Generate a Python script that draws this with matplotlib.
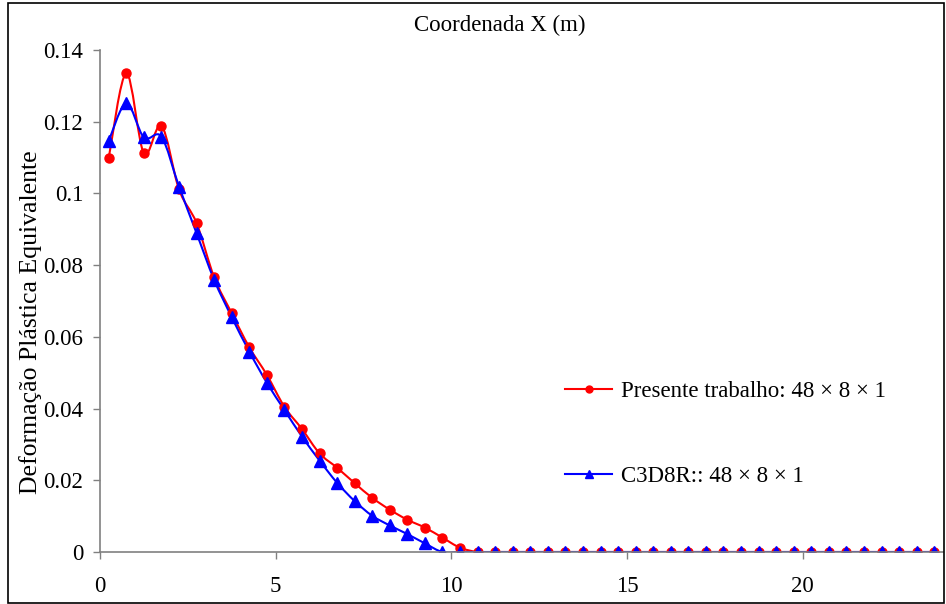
import matplotlib
matplotlib.use("Agg")
import matplotlib.pyplot as plt
import numpy as np
from matplotlib.path import Path
from matplotlib.patches import PathPatch, Rectangle
from matplotlib.ticker import FuncFormatter

plt.rcParams.update({"font.family": "Liberation Serif", "font.size": 16.5})

# x positions of the 48 elements (centres, 0.5 m spacing)
x = np.arange(48) * 0.5 + 0.25

presente = [0.1100, 0.1335, 0.1112, 0.1189, 0.1011, 0.0917, 0.0766, 0.0666,
            0.0571, 0.0494, 0.0405, 0.0343, 0.0275, 0.0235, 0.0192, 0.0151,
            0.0118, 0.0090, 0.0068, 0.0040, 0.0012] + [0.0] * 27
c3d8r = [0.1147, 0.1251, 0.1156, 0.1158, 0.1019, 0.0889, 0.0759, 0.0655,
         0.0559, 0.0472, 0.0396, 0.0322, 0.0255, 0.0193, 0.0142, 0.0101,
         0.0074, 0.0050, 0.0024] + [0.0] * 29

lab_presente = "Presente trabalho: 48 \u00d7 8 \u00d7 1"
lab_c3d8r = "C3D8R:: 48 \u00d7 8 \u00d7 1"


def smooth_path(xs, ys):
    # Excel-like smoothed line: cubic Bezier through the points
    p = np.column_stack([xs, ys])
    n = len(p)
    verts = [p[0]]
    codes = [Path.MOVETO]
    for i in range(n - 1):
        p0 = p[i - 1] if i > 0 else p[i]
        p3 = p[i + 2] if i + 2 < n else p[i + 1]
        c1 = p[i] + (p[i + 1] - p0) / 6.0
        c2 = p[i + 1] - (p3 - p[i]) / 6.0
        verts += [c1, c2, p[i + 1]]
        codes += [Path.CURVE4] * 3
    return Path(verts, codes)


fig = plt.figure(figsize=(9.46, 6.04), dpi=100)
ax = fig.add_axes([100 / 946, 52 / 604, 843 / 946, 502 / 604])

for ys, col, mk, ms, lms, lab in [(presente, "#ff0000", "o", 6.5, 5, lab_presente),
                                  (c3d8r, "#0000ff", "^", 8, 6, lab_c3d8r)]:
    ax.add_patch(PathPatch(smooth_path(x, ys), fc="none", ec=col, lw=1.5))
    ax.plot(x, ys, ls="none", marker=mk, ms=ms, color=col)
    ax.plot([], [], color=col, lw=1.5, marker=mk, ms=lms, label=lab)

ax.set_xlim(0, 24)
ax.set_ylim(0, 0.14)
ax.set_xticks([0, 5, 10, 15, 20])
ax.set_yticks(np.arange(0, 0.141, 0.02))
ax.yaxis.set_major_formatter(FuncFormatter(lambda v, p: f"{v:g}"))
for s in ["top", "right"]:
    ax.spines[s].set_visible(False)
for s in ["left", "bottom"]:
    ax.spines[s].set_color("#808080")
    ax.spines[s].set_linewidth(1.2)
ax.tick_params(axis="both", direction="out", length=5, width=1, color="#808080")
ax.tick_params(axis="x", pad=12)
ax.tick_params(axis="y", pad=7)

ax.legend(loc="center left", bbox_to_anchor=(0.552, 0.235), frameon=False,
          borderpad=0, borderaxespad=0, handlelength=2.05, handletextpad=0.38,
          labelspacing=2.8, fontsize=16.5)

fig.text(500 / 946, 1 - 25 / 604, "Coordenada X (m)", ha="center", va="center")
fig.text(31 / 946, 1 - 322 / 604, "Deforma\u00e7\u00e3o Pl\u00e1stica Equivalente",
         rotation=90, ha="center", va="center", fontsize=18.5)
fig.patches.append(Rectangle((8 / 946, 1 / 604), 936 / 946, 600 / 604,
                             transform=fig.transFigure, fill=False,
                             ec="black", lw=1.2))

fig.savefig("out.png", dpi=100)
